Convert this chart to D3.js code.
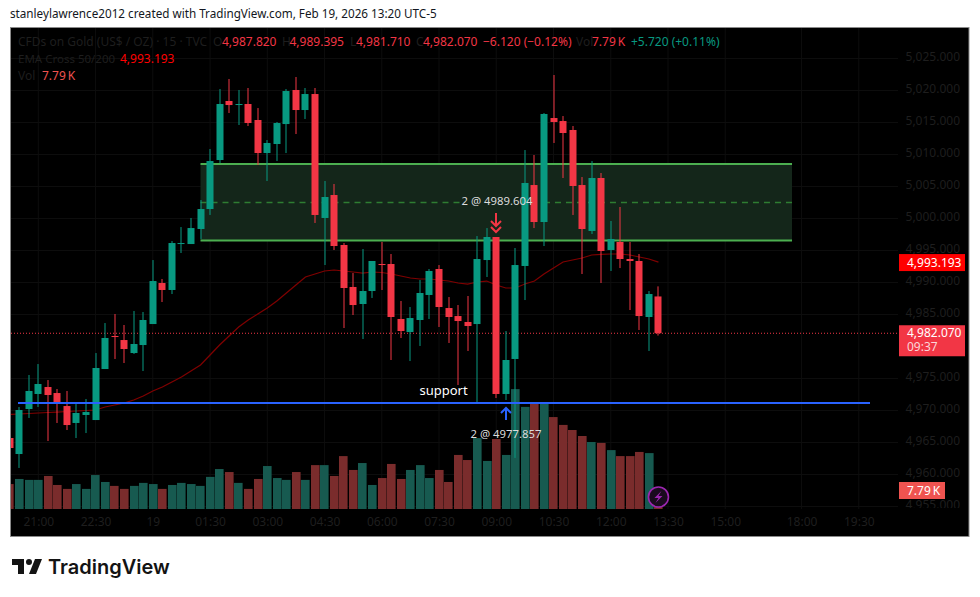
<!DOCTYPE html>
<html>
<head>
<meta charset="utf-8">
<script src="https://cdn.jsdelivr.net/npm/d3@7"></script>
<style>
  html, body { margin: 0; padding: 0; background: #fff; }
  svg { display: block; }
  text { font-family: "Noto Sans", sans-serif; }
</style>
</head>
<body>
<div id="chart"></div>
<script>
// 15 minute bars
const opens = [4965.70,4963.20,4970.23,4972.58,4973.67,4972.73,4970.70,4968.05,4969.30,4968.51,4976.48,4981.64,4981.01,4978.98,4980.23,4983.51,4989.92,4988.83,4996.01,4996.01,4998.36,5001.48,5009.14,5018.36,5017.73,5017.89,5015.39,5010.23,5011.64,5014.76,5020.08,5016.95,5019.45,5000.08,5003.67,4995.86,4989.30,4986.64,4988.67,4992.89,4992.89,4984.30,4982.26,4984.14,4988.05,4992.11,4986.01,4984.76,4983.83,4983.51,4993.51,4997.11,4972.58,4978.05,4992.58,5005.23,4999.45,5015.70,5015.23,5013.83,5005.23,4998.05,5006.33,4995.08,4996.33,4993.67,4993.36,4984.61,4987.82];
const highs = [4967.27,4970.55,4975.55,4977.26,4974.76,4973.36,4973.05,4971.01,4971.80,4978.98,4983.67,4985.08,4983.36,4985.55,4985.39,4993.51,4990.55,4996.48,4998.67,5000.08,5002.89,5010.86,5020.23,5021.80,5020.08,5020.39,5017.26,5012.26,5015.08,5020.23,5022.11,5020.39,5020.39,5005.86,5005.39,4996.17,4991.48,4995.23,4993.36,4996.33,4994.45,4987.11,4986.17,4990.39,4992.11,4992.73,4987.73,4986.48,4987.89,4997.26,4998.51,4997.11,4982.42,4995.39,5010.70,5009.92,5016.48,5022.42,5016.01,5014.45,5006.48,5008.98,5007.11,4999.61,5001.80,4996.33,4994.45,4988.67,4989.395];
const lows = [4961.02,4961.02,4968.83,4970.55,4965.23,4968.05,4966.95,4965.70,4966.48,4968.51,4976.48,4978.05,4977.42,4978.83,4976.17,4983.51,4986.95,4988.20,4994.61,4996.01,4996.80,5000.55,5008.67,5016.48,5014.61,5014.45,5008.36,5005.86,5008.98,5010.23,5013.20,5015.55,4999.30,4992.73,4995.08,4982.89,4984.92,4981.17,4987.58,4988.83,4977.89,4981.33,4977.73,4980.08,4984.30,4983.05,4980.55,4973.98,4979.30,4971.33,4990.86,4971.95,4971.64,4962.58,4987.26,4998.51,4995.70,5011.80,5006.33,5000.55,4991.33,4997.58,4989.92,4991.80,4992.26,4985.70,4982.58,4979.30,4981.71];
const closes = [4964.14,4970.08,4973.05,4974.14,4972.42,4971.33,4967.73,4969.61,4969.76,4976.64,4981.33,4981.48,4979.61,4980.39,4984.14,4990.23,4988.83,4996.17,4996.17,4998.51,5001.48,5008.98,5017.89,5017.73,5017.89,5014.92,5010.23,5011.80,5014.92,5019.92,5016.95,5019.45,5000.55,5003.36,4995.70,4989.14,4986.48,4988.67,4993.36,4992.73,4984.61,4982.42,4984.45,4988.36,4991.80,4986.17,4984.61,4983.98,4983.20,4993.67,4997.11,4972.58,4977.89,4992.73,5005.55,4999.45,5016.33,5015.08,5013.36,5005.08,4998.36,5006.33,4994.92,4996.80,4993.67,4993.36,4984.76,4988.20,4982.07];
const volumes = [10.8,13.0,12.6,12.6,14.3,10.4,8.7,10.8,8.7,14.7,11.7,10.0,8.7,10.0,11.3,10.8,8.7,10.4,11.3,10.8,10.0,13.9,17.3,16.0,11.3,8.7,13.0,18.6,13.4,12.6,16.0,12.6,19.0,19.0,14.3,22.9,16.9,19.9,10.4,13.4,19.5,13.0,16.9,19.0,13.4,16.9,11.7,23.4,21.2,30.7,20.8,30.3,23.4,51.9,44.2,45.9,45.9,39.8,36.4,34.2,31.6,29.0,28.6,25.5,22.9,22.9,24.7,24.2,7.79];
const emaCross = [4969.37,4969.45,4969.53,4969.61,4969.69,4969.76,4969.84,4969.92,4970.00,4970.08,4970.55,4970.86,4971.17,4971.64,4972.26,4973.05,4973.67,4974.45,4975.23,4976.17,4977.11,4978.67,4980.23,4981.64,4983.05,4984.14,4985.08,4986.01,4987.11,4988.36,4989.61,4990.86,4991.33,4991.80,4991.95,4991.80,4991.64,4991.48,4991.64,4991.56,4991.33,4991.02,4990.70,4990.55,4990.55,4990.39,4990.23,4989.92,4989.76,4990.08,4990.23,4989.61,4989.14,4989.14,4989.76,4990.23,4991.33,4992.26,4993.20,4993.51,4993.83,4994.30,4994.38,4994.45,4994.45,4994.30,4993.98,4993.67,4993.193];

const priceTicks = [5025,5020,5015,5010,5005,5000,4995,4990,4985,4975,4970,4965,4960,4955];
const timeLabels = ['21:00','22:30','19','01:30','03:00','04:30','06:00','07:30','09:00','10:30','12:00','13:30','15:00','18:00','19:30'];
const timeIndex = [3,9,15,21,27,33,39,45,51,57,63,69,75,83,89];

const zoneTop = 5008.5, zoneMid = 5002.5, zoneBottom = 4996.56;
const zoneStart = 20, zoneEnd = 82;
const supportPrice = 4971.17;
const lastClose = 4982.07, lastEma = 4993.193;
const sellBar = 51, buyBar = 52;
const lastBar = opens.length - 1;

const green = '#089981', red = '#f23645', faint = '#1e1e1e', grid = '#0d0d0d';

const svg = d3.select('#chart').append('svg').attr('width', 980).attr('height', 597);

const x = d3.scaleLinear().domain([0, 89]).range([9.7, 858.8]);
const y = d3.scaleLinear().domain([5025, 4955]).range([58.5, 506.5]);
const yVol = d3.scaleLinear().domain([0, 100]).range([509, 278]);

// header
svg.append('text').attr('x', 10).attr('y', 18).attr('font-size', 11.7).attr('fill', '#131722')
  .text('stanleylawrence2012 created with TradingView.com, Feb 19, 2026 13:20 UTC-5');

// pane
svg.append('rect').attr('x', 10.5).attr('y', 27.5).attr('width', 958.5).attr('height', 509)
  .attr('fill', '#000').attr('stroke', '#8a8a8a');

const defs = svg.append('defs');
defs.append('clipPath').attr('id', 'plot').append('rect').attr('x', 11).attr('y', 28).attr('width', 887).attr('height', 481);
defs.append('clipPath').attr('id', 'prices').append('rect').attr('x', 880).attr('y', 28).attr('width', 88).attr('height', 480);

// grid
const gridG = svg.append('g').attr('clip-path', 'url(#plot)').attr('stroke', grid);
gridG.selectAll('.v').data(timeIndex).join('line').attr('x1', d => x(d)).attr('x2', d => x(d)).attr('y1', 28).attr('y2', 509);
gridG.selectAll('.h').data(priceTicks).join('line').attr('x1', 11).attr('x2', 898).attr('y1', d => y(d)).attr('y2', d => y(d));

// axes
const axisY = svg.append('g').attr('clip-path', 'url(#prices)').append('g').attr('transform', 'translate(960,-1.5)')
  .call(d3.axisLeft(y).tickValues(priceTicks).tickSize(0).tickPadding(0).tickFormat(d3.format(',.3f')));
axisY.select('.domain').remove();
axisY.selectAll('text').attr('fill', faint).attr('font-size', 12);

const axisX = svg.append('g').attr('transform', 'translate(0,514.5)')
  .call(d3.axisBottom(x).tickValues(timeIndex).tickSize(0).tickPadding(3).tickFormat((d, i) => timeLabels[i]));
axisX.select('.domain').remove();
axisX.selectAll('text').attr('fill', faint).attr('font-size', 12);

const plot = svg.append('g').attr('clip-path', 'url(#plot)');

// volume
plot.selectAll('.vol').data(volumes).join('rect')
  .attr('x', (d, i) => Math.round(x(i) - 4.2))
  .attr('width', 8.6)
  .attr('y', d => yVol(d))
  .attr('height', d => yVol(0) - yVol(d))
  .attr('fill', (d, i) => closes[i] >= opens[i] ? '#175a50' : '#7a2c2c');

// zone
plot.append('rect').attr('x', x(zoneStart)).attr('width', x(zoneEnd) - x(zoneStart))
  .attr('y', y(zoneTop)).attr('height', y(zoneBottom) - y(zoneTop)).attr('fill', '#14261a');
[zoneTop, zoneBottom].forEach(p => {
  plot.append('line').attr('x1', x(zoneStart)).attr('x2', x(zoneEnd)).attr('y1', y(p)).attr('y2', y(p))
    .attr('stroke', '#4caf50').attr('stroke-width', 2);
});
[[zoneStart, 47.5], [56, zoneEnd]].forEach(r => {
  plot.append('line').attr('x1', x(r[0])).attr('x2', x(r[1])).attr('y1', y(zoneMid)).attr('y2', y(zoneMid))
    .attr('stroke', '#2e7d32').attr('stroke-width', 1.5).attr('stroke-dasharray', '6 5');
});

// last price dotted line
plot.append('line').attr('x1', 11).attr('x2', 898).attr('y1', y(lastClose)).attr('y2', y(lastClose))
  .attr('stroke', red).attr('stroke-dasharray', '1 2');

// EMA
plot.append('path').datum(emaCross)
  .attr('fill', 'none').attr('stroke', '#800000').attr('stroke-width', 1.2)
  .attr('d', d3.line().x((d, i) => x(i)).y(d => y(d)));

// candles
const candles = plot.selectAll('.candle').data(opens).join('g')
  .attr('fill', (d, i) => closes[i] >= opens[i] ? green : red);
candles.append('rect')
  .attr('x', (d, i) => Math.round(x(i)) - 0.5).attr('width', 1)
  .attr('y', (d, i) => y(highs[i])).attr('height', (d, i) => y(lows[i]) - y(highs[i]));
candles.append('rect')
  .attr('x', (d, i) => Math.round(x(i)) - 3.5).attr('width', 7)
  .attr('y', (d, i) => y(Math.max(opens[i], closes[i])))
  .attr('height', (d, i) => Math.max(1, Math.abs(y(opens[i]) - y(closes[i]))));

// support line
plot.append('line').attr('x1', 18).attr('x2', 870).attr('y1', y(supportPrice)).attr('y2', y(supportPrice))
  .attr('stroke', '#2962ff').attr('stroke-width', 2);
svg.append('text').attr('x', 443.5).attr('y', 395).attr('text-anchor', 'middle').attr('fill', '#fff')
  .attr('font-size', 13).text('support');

// trades
svg.append('text').attr('x', 497).attr('y', 205).attr('text-anchor', 'middle').attr('fill', '#dcdcdc')
  .attr('font-size', 11.3).text('2 @ 4989.604');
svg.append('text').attr('x', 506).attr('y', 438).attr('text-anchor', 'middle').attr('fill', '#dcdcdc')
  .attr('font-size', 11.3).text('2 @ 4977.857');
const sell = svg.append('g').attr('transform', `translate(${Math.round(x(sellBar))},0)`)
  .attr('fill', 'none').attr('stroke', red).attr('stroke-width', 2);
sell.append('path').attr('d', 'M0 213V226M-5 221L0 226L5 221M-5 227L0 232L5 227');
const buy = svg.append('g').attr('transform', `translate(${Math.round(x(buyBar))},0)`)
  .attr('fill', 'none').attr('stroke', '#2962ff').attr('stroke-width', 2);
buy.append('path').attr('d', 'M0 408V420M-5 413L0 408L5 413');

// legend
function legend(px, py, txt, col, size) {
  svg.append('text').attr('x', px).attr('y', py).attr('font-size', size || 12).attr('fill', col).text(txt);
}
legend(18, 46, 'CFDs on Gold (US$ / OZ) · 15 · TVC', faint);
legend(213, 46, 'O', faint);
legend(222, 46, '4,987.820', red);
legend(282, 46, 'H', faint);
legend(289.5, 46, '4,989.395', red);
legend(350, 46, 'L', faint);
legend(356, 46, '4,981.710', red);
legend(416, 46, 'C', faint);
legend(423, 46, '4,982.070', red);
legend(483, 46, '−6.120 (−0.12%)', red);
legend(576, 46, 'Vol', faint);
legend(592, 46, '7.79\u202fK', red);
legend(631, 46, '+5.720 (+0.11%)', green);
legend(18, 63, 'EMA Cross 50/200', faint, 11.5);
legend(120, 63, '4,993.193', '#ff0000');
legend(18, 80, 'Vol', faint);
legend(42, 80, '7.79\u202fK', '#ef5350');

// price tags
function tag(px, py, w, h, bg) {
  svg.append('rect').attr('x', px).attr('y', py).attr('width', w).attr('height', h).attr('fill', bg);
}
tag(899, y(lastEma) - 8, 66, 17, '#ff0000');
legend(907, y(lastEma) + 4.5, d3.format(',.3f')(lastEma), '#fff');
tag(899, y(lastClose) - 8, 66, 31, red);
legend(907, y(lastClose) + 3.5, d3.format(',.3f')(lastClose), '#fff');
legend(907, y(lastClose) + 17.5, '09:37', '#fbd5d9');
tag(899, yVol(volumes[lastBar]) - 9, 46, 17, '#ef5350');
legend(907, yVol(volumes[lastBar]) + 4, '7.79\u202fK', '#fff');

// lightning badge
const badge = svg.append('g').attr('transform', `translate(${x(lastBar)},497)`);
badge.append('circle').attr('r', 10).attr('fill', '#1a0a1e').attr('stroke', '#9c27b0').attr('stroke-width', 1.6);
badge.append('path').attr('d', 'M3 -6L-4 1H0L-3 6L4 -1H0Z').attr('fill', '#9c27b0');

// footer logo
svg.append('path').attr('transform', 'translate(10,553)').attr('fill', '#131313')
  .attr('d', 'M14 6H2v6h6v9h6V6Zm12 15h-7l6-15h7l-6 15Zm-7-9a3 3 0 1 0 0-6 3 3 0 0 0 0 6Z');
svg.append('text').attr('x', 48).attr('y', 574).attr('font-size', 20).attr('font-weight', 600)
  .attr('fill', '#131313').style('font-family', 'Inter, sans-serif').text('TradingView');
</script>
</body>
</html>
